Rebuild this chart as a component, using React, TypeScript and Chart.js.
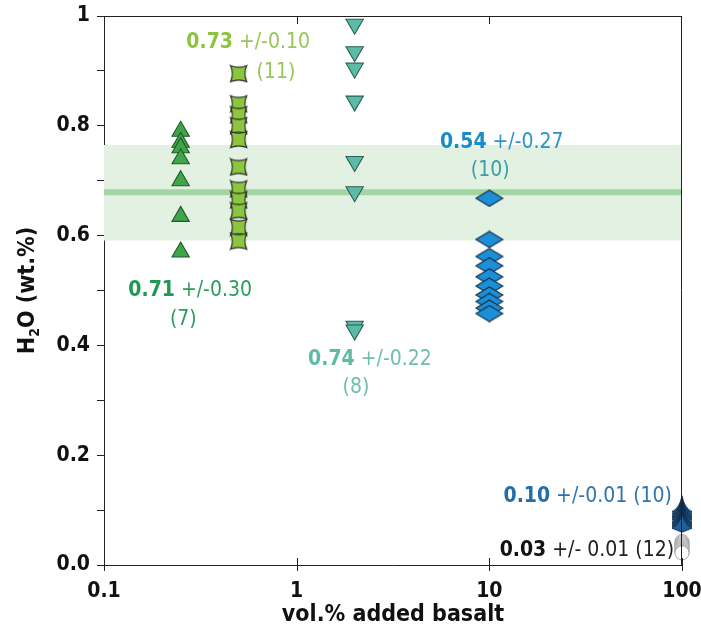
import React, { useEffect, useRef } from "react";
import { Chart, registerables } from "chart.js";

Chart.register(...registerables);

// ---------- data ----------
const xTickValues = [0.1, 1, 10, 100];
const xTickLabels = ["0.1", "1", "10", "100"];
const yMin = 0;
const yMax = 1;
const yStep = 0.1;

const upTriX = 0.25;
const upTriValues = [0.79, 0.77, 0.76, 0.74, 0.7, 0.635, 0.57];

const concaveX = 0.5;
const concaveValues = [0.895, 0.84, 0.82, 0.8, 0.775, 0.725, 0.685, 0.665, 0.645, 0.615, 0.59];

const downTriX = 2;
const downTriValues = [0.985, 0.935, 0.905, 0.845, 0.735, 0.68, 0.435, 0.428];

const diamondX = 10;
const diamondValues = [0.668, 0.593, 0.562, 0.545, 0.525, 0.508, 0.492, 0.48, 0.468, 0.458];

const spikeX = 100;
const spikeValues = [0.108, 0.104, 0.1, 0.097, 0.094, 0.09, 0.087, 0.084, 0.081, 0.078];

const circleX = 100;
const circleValues = [0.043, 0.041, 0.039, 0.037, 0.035, 0.033, 0.031, 0.029, 0.027, 0.025, 0.023, 0.022];

const bandLow = 0.591;
const bandHigh = 0.765;
const bandMean = 0.679;

// annotation texts (anchor in data units)
const annotations = [
  { x: 0.56, y: 0.952, align: "center", parts: [["0.73", true, "#8cc43e"], [" +/-0.10", false, "#97c65a"]] },
  { x: 0.78, y: 0.897, align: "center", parts: [["(11)", false, "#97c65a"]] },
  { x: 0.28, y: 0.5, align: "center", parts: [["0.71", true, "#1f9a55"], [" +/-0.30", false, "#2a9d5c"]] },
  { x: 0.258, y: 0.447, align: "center", parts: [["(7)", false, "#2a9d5c"]] },
  { x: 2.4, y: 0.374, align: "center", parts: [["0.74", true, "#5fbba5"], [" +/-0.22", false, "#6cc0ac"]] },
  { x: 2.03, y: 0.323, align: "center", parts: [["(8)", false, "#6cc0ac"]] },
  { x: 11.6, y: 0.77, align: "center", parts: [["0.54", true, "#1a8ccc"], [" +/-0.27", false, "#2e93c6"]] },
  { x: 10.1, y: 0.719, align: "center", parts: [["(10)", false, "#3a9ea6"]] },
  { x: 88.7, y: 0.124, align: "right", parts: [["0.10", true, "#236ea8"], [" +/-0.01 (10)", false, "#2f74ad"]] },
  { x: 91, y: 0.027, align: "right", parts: [["0.03", true, "#111111"], [" +/- 0.01 (12)", false, "#222222"]] },
];

const FONT = "'DejaVu Sans Condensed', 'Liberation Sans Narrow', sans-serif";

function makeCanvas(w: number, h: number, draw: (g: CanvasRenderingContext2D) => void) {
  const c = document.createElement("canvas");
  c.width = w;
  c.height = h;
  const g = c.getContext("2d")!;
  draw(g);
  return c;
}

function concaveMarker() {
  return makeCanvas(19, 19, (g) => {
    const a = 1.5, b = 17.5, m = 9.5, k = 3.4;
    g.beginPath();
    g.moveTo(a, a);
    g.quadraticCurveTo(m, a + k, b, a);
    g.quadraticCurveTo(b - k, m, b, b);
    g.quadraticCurveTo(m, b - k, a, b);
    g.quadraticCurveTo(a + k, m, a, a);
    g.closePath();
    g.fillStyle = "#8cc63f";
    g.fill();
    g.strokeStyle = "#262626";
    g.lineWidth = 1.2;
    g.stroke();
  });
}

function diamondMarker() {
  return makeCanvas(29, 18, (g) => {
    g.beginPath();
    g.moveTo(1, 9);
    g.lineTo(14.5, 1);
    g.lineTo(28, 9);
    g.lineTo(14.5, 17);
    g.closePath();
    g.fillStyle = "#1d8fd6";
    g.fill();
    g.strokeStyle = "#142f48";
    g.lineWidth = 1.1;
    g.stroke();
  });
}

function spikeMarker() {
  return makeCanvas(22, 22, (g) => {
    g.beginPath();
    g.moveTo(11, 1);
    g.quadraticCurveTo(13, 13, 21, 17);
    g.quadraticCurveTo(16, 19, 11, 21);
    g.quadraticCurveTo(6, 19, 1, 17);
    g.quadraticCurveTo(9, 13, 11, 1);
    g.closePath();
    g.fillStyle = "#1e5f9b";
    g.fill();
    g.strokeStyle = "#0f2a45";
    g.lineWidth = 1;
    g.stroke();
  });
}

const bandPlugin = {
  id: "band",
  beforeDatasetsDraw(chart: any) {
    const { ctx, chartArea, scales } = chart;
    const y = scales.y;
    const yt = y.getPixelForValue(bandHigh);
    const yb = y.getPixelForValue(bandLow);
    const ym = y.getPixelForValue(bandMean);
    ctx.save();
    ctx.fillStyle = "#e2f1e2";
    ctx.fillRect(chartArea.left, yt, chartArea.right - chartArea.left, yb - yt);
    ctx.strokeStyle = "#a2d5a2";
    ctx.lineWidth = 6;
    ctx.beginPath();
    ctx.moveTo(chartArea.left, ym);
    ctx.lineTo(chartArea.right, ym);
    ctx.stroke();
    ctx.restore();
  },
};

const framePlugin = {
  id: "frame",
  afterDraw(chart: any) {
    const { ctx, chartArea, scales } = chart;
    const { left, right, top, bottom } = chartArea;
    ctx.save();
    ctx.strokeStyle = "#222";
    ctx.lineWidth = 1;
    ctx.beginPath();
    ctx.moveTo(left, top + 0.5);
    ctx.lineTo(right, top + 0.5);
    ctx.moveTo(right - 0.5, top);
    ctx.lineTo(right - 0.5, bottom);
    xTickValues.forEach((v) => {
      const px = Math.round(scales.x.getPixelForValue(v)) + 0.5;
      ctx.moveTo(px, bottom - 7);
      ctx.lineTo(px, bottom + 6);
      if (v > xTickValues[0] && v < xTickValues[xTickValues.length - 1]) {
        ctx.moveTo(px, top);
        ctx.lineTo(px, top + 8);
      }
    });
    ctx.stroke();

    // y title with subscript
    ctx.translate(26, (top + bottom) / 2);
    ctx.rotate(-Math.PI / 2);
    ctx.fillStyle = "#111";
    ctx.textBaseline = "alphabetic";
    const big = `bold 23px ${FONT}`;
    const small = `bold 14px ${FONT}`;
    ctx.font = big;
    const wH = ctx.measureText("H").width;
    const wRest = ctx.measureText("O (wt.%)").width;
    ctx.font = small;
    const w2 = ctx.measureText("2").width;
    const total = wH + w2 + wRest;
    let cx = -total / 2;
    ctx.font = big;
    ctx.fillText("H", cx, 8);
    cx += wH;
    ctx.font = small;
    ctx.fillText("2", cx, 13);
    cx += w2;
    ctx.font = big;
    ctx.fillText("O (wt.%)", cx, 8);
    ctx.restore();

    // x title
    ctx.save();
    ctx.fillStyle = "#111";
    ctx.font = `bold 23px ${FONT}`;
    ctx.textAlign = "center";
    ctx.textBaseline = "middle";
    ctx.fillText("vol.% added basalt", (left + right) / 2, 615);
    ctx.restore();

    // annotations
    ctx.save();
    ctx.textBaseline = "middle";
    ctx.textAlign = "left";
    annotations.forEach((a) => {
      const px = scales.x.getPixelForValue(a.x);
      const py = scales.y.getPixelForValue(a.y);
      const widths = a.parts.map(([t, b]) => {
        ctx.font = `${b ? "bold " : ""}21px ${FONT}`;
        return ctx.measureText(t as string).width;
      });
      const total = widths.reduce((s, w) => s + w, 0);
      let sx = a.align === "center" ? px - total / 2 : px - total;
      a.parts.forEach(([t, b, c], i) => {
        ctx.font = `${b ? "bold " : ""}21px ${FONT}`;
        ctx.fillStyle = c as string;
        ctx.fillText(t as string, sx, py);
        sx += widths[i];
      });
    });
    ctx.restore();
  },
};

export default function App() {
  const ref = useRef<HTMLCanvasElement>(null);
  useEffect(() => {
    if (!ref.current) return;
    const concave = concaveMarker();
    const diamond = diamondMarker();
    const spike = spikeMarker();
    const pts = (x: number, vals: number[]) => vals.map((v) => ({ x, y: v }));
    const chart = new Chart(ref.current, {
      type: "scatter",
      data: {
        datasets: [
          {
            data: pts(upTriX, upTriValues),
            pointStyle: "triangle",
            pointRadius: 10,
            backgroundColor: "#40a44a",
            borderColor: "#1f5a2a",
            borderWidth: 1.1,
            clip: false,
          },
          {
            data: pts(concaveX, concaveValues),
            pointStyle: concave,
            pointRadius: 9,
            clip: false,
          },
          {
            data: pts(downTriX, downTriValues),
            pointStyle: "triangle",
            rotation: 180,
            pointRadius: 10,
            backgroundColor: "#5cbba6",
            borderColor: "#2b5f55",
            borderWidth: 1.1,
            clip: false,
          },
          {
            data: pts(diamondX, diamondValues),
            pointStyle: diamond,
            pointRadius: 9,
            clip: false,
          },
          {
            data: pts(spikeX, spikeValues),
            pointStyle: spike,
            pointRadius: 10,
            clip: false,
          },
          {
            data: pts(circleX, circleValues),
            pointStyle: "circle",
            pointRadius: 7,
            backgroundColor: "#ffffff",
            borderColor: "#9a9a9a",
            borderWidth: 0.8,
            clip: false,
          },
        ] as any,
      },
      options: {
        animation: false,
        responsive: false,
        devicePixelRatio: 1,
        layout: { padding: { top: 16, right: 19, left: 0, bottom: 0 } },
        plugins: { legend: { display: false }, tooltip: { enabled: false } },
        scales: {
          x: {
            type: "logarithmic",
            min: xTickValues[0],
            max: xTickValues[xTickValues.length - 1],
            afterBuildTicks: (s: any) => {
              s.ticks = xTickValues.map((v) => ({ value: v }));
            },
            afterFit: (s: any) => {
              s.height = 70;
              s.paddingLeft = 0;
              s.paddingRight = 0;
            },
            grid: { drawOnChartArea: false, drawTicks: false },
            border: { display: true, color: "#222", width: 1 },
            ticks: {
              autoSkip: false,
              maxRotation: 0,
              padding: 14,
              color: "#111",
              font: { family: FONT, size: 21, weight: "bold" },
              callback: (v: any) => {
                const i = xTickValues.indexOf(Number(v));
                return i >= 0 ? xTickLabels[i] : "";
              },
            },
          },
          y: {
            min: yMin,
            max: yMax,
            afterFit: (s: any) => {
              s.width = 104;
              s.paddingTop = 0;
              s.paddingBottom = 0;
            },
            grid: { drawOnChartArea: false, drawTicks: true, tickLength: 7, color: "#222" },
            border: { display: true, color: "#222", width: 1 },
            ticks: {
              stepSize: yStep,
              padding: 7,
              color: "#111",
              font: { family: FONT, size: 21, weight: "bold" },
              callback: (v: any) => {
                const n = Math.round(Number(v) * 10);
                if (n % 2 !== 0) return "";
                return n === 10 ? "1" : (n / 10).toFixed(1);
              },
            },
          },
        },
      } as any,
      plugins: [bandPlugin, framePlugin],
    });
    return () => chart.destroy();
  }, []);
  return (
    <div style={{ position: "absolute", left: 0, top: 0, width: 701, height: 635, background: "#fff" }}>
      <canvas ref={ref} width={701} height={635} />
    </div>
  );
}
